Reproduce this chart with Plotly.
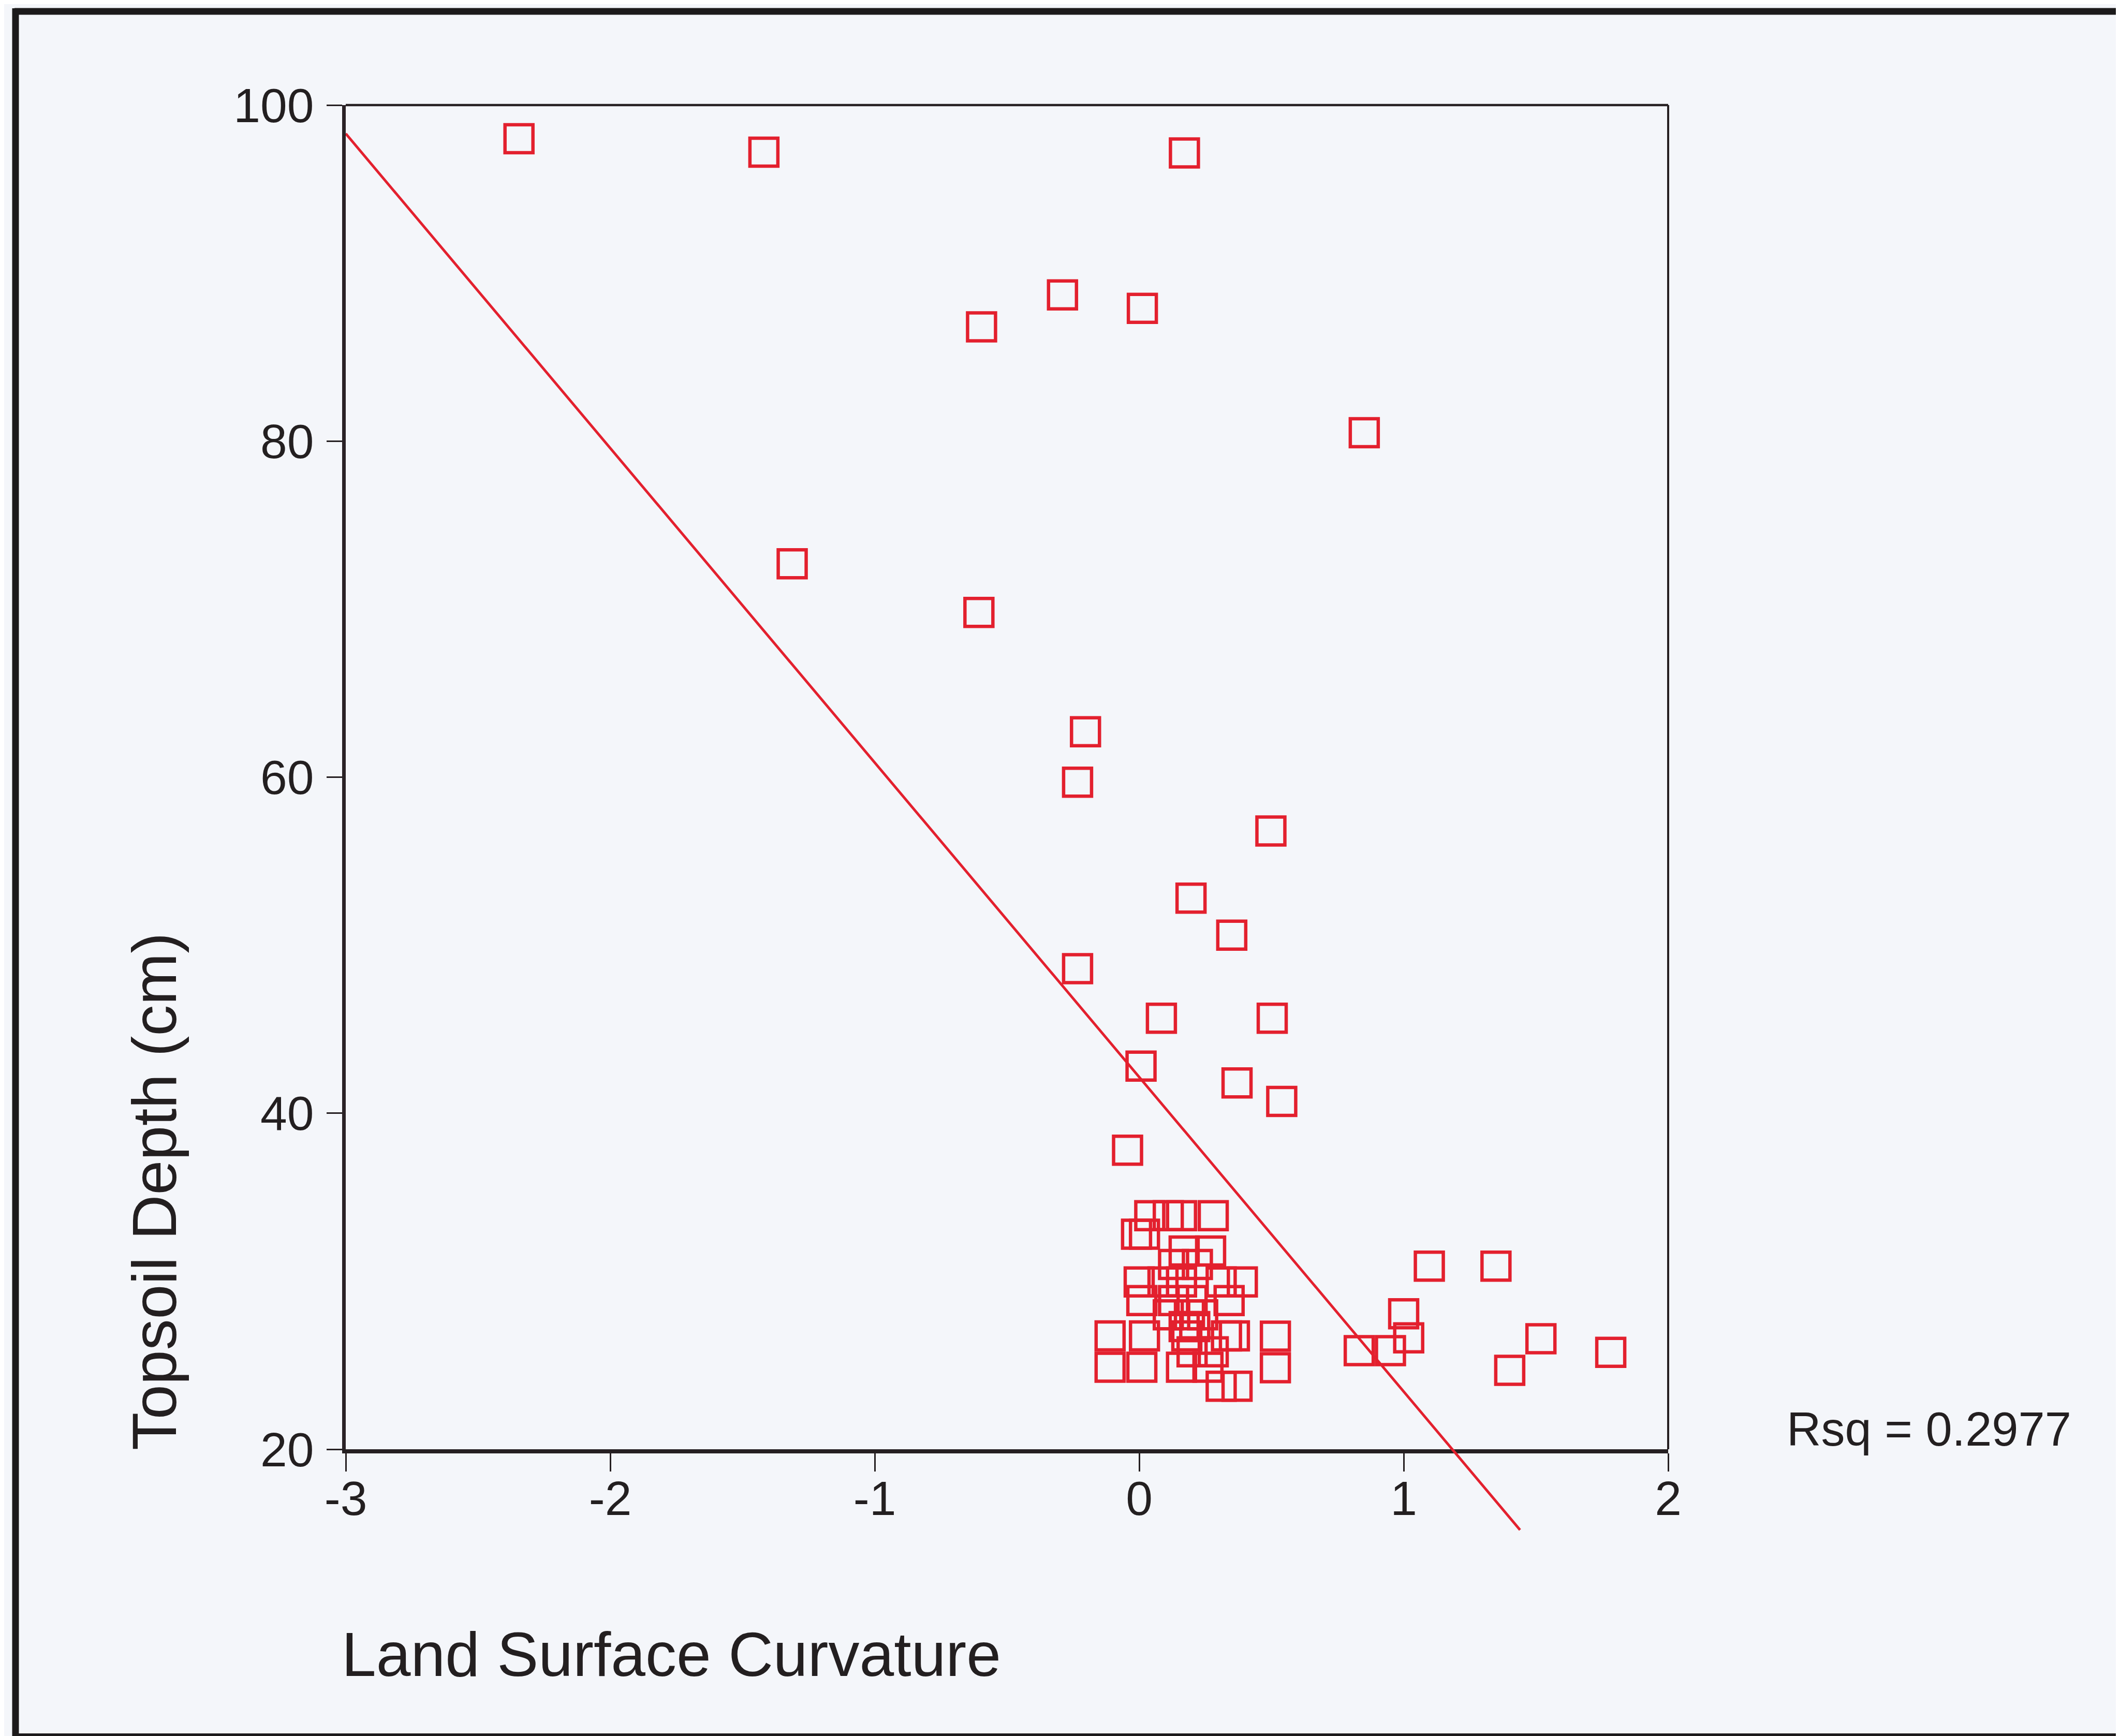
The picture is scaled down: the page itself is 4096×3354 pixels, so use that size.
import plotly.graph_objects as go

# ---------------- data ----------------
curvature = [-2.345, -1.419, 0.171, -0.290, 0.012, -0.596, 0.851, -1.312, -0.606,
             -0.203, -0.233, 0.498, 0.196, 0.350, -0.233, 0.084, 0.503, 0.007,
             0.370, 0.539, -0.044,
             1.097, 1.349, 1.000, 1.019, 0.832, 0.950, 1.519, 1.401, 1.783,
             0.515, 0.515,
             0.04, 0.11, 0.16, 0.28,
             -0.01, 0.02,
             0.17, 0.27,
             0.13, 0.22,
             0.00, 0.09, 0.16, 0.31, 0.39,
             0.01, 0.13, 0.20, 0.34,
             0.11, 0.19, 0.24,
             0.17, 0.21,
             -0.11, 0.02, 0.18, 0.33, 0.36,
             0.20, 0.28,
             -0.11, 0.01, 0.16, 0.26,
             0.31, 0.37]
depth = [98.0, 97.2, 97.15, 88.7, 87.9, 86.8, 80.5, 72.7, 69.8,
         62.7, 59.7, 56.8, 52.8, 50.6, 48.6, 45.65, 45.65, 42.8,
         41.8, 40.7, 37.8,
         30.9, 30.9, 28.06, 26.63, 25.87, 25.87, 26.58, 24.7, 25.77,
         26.73, 24.85,
         33.9, 33.9, 33.9, 33.9,
         32.8, 32.8,
         31.8, 31.8,
         31.0, 31.0,
         29.96, 29.96, 29.96, 29.96, 29.96,
         28.85, 28.85, 28.85, 28.85,
         28.0, 28.0, 28.0,
         27.3, 27.3,
         26.75, 26.75, 26.75, 26.75, 26.75,
         25.8, 25.8,
         24.88, 24.88, 24.88, 24.88,
         23.75, 23.75]

fit_x = [-3.0, 1.44]
fit_y = [98.3, 15.2]

x_ticks = [-3, -2, -1, 0, 1, 2]
y_ticks = [20, 40, 60, 80, 100]
rsq_label = "Rsq = 0.2977"

# ---------------- layout geometry ----------------
W, H = 4096, 3354
L, R, T, B = 660, 881, 195, 362
PW, PH = W - L - R, H - T - B
RED = "#e3202e"
INK = "#231f20"
BG = "#f4f6fa"
FONT = "Liberation Sans, Arial, sans-serif"

def px(xp):
    return (xp - L) / PW

def py(yp):
    return (H - B - yp) / PH

y_bottom_dom = py(2792)   # where y=20 sits
ext = (y_bottom_dom * PH) / ((2792 - 195) / 80.0)  # data units below 20 in ext subplot

fig = go.Figure()
fig.add_trace(go.Scatter(
    x=curvature, y=depth, mode="markers", xaxis="x", yaxis="y",
    marker=dict(symbol="square-open", size=54, color=RED,
                line=dict(width=6.5, color=RED)),
    showlegend=False, hoverinfo="x+y"))
fig.add_trace(go.Scatter(
    x=fit_x, y=fit_y, mode="lines", xaxis="x2", yaxis="y2",
    line=dict(color=RED, width=5), showlegend=False))

fig.update_layout(
    width=W, height=H, autosize=False,
    margin=dict(l=L, r=R, t=T, b=B, pad=0),
    paper_bgcolor=BG, plot_bgcolor="rgba(0,0,0,0)",
    font=dict(family=FONT, color=INK, size=93),
    xaxis=dict(domain=[0, 1], range=[-3, 2], anchor="y",
               tickvals=x_ticks, ticktext=[str(v) for v in x_ticks],
               showgrid=False, zeroline=False,
               showline=True, linecolor="#262022", linewidth=8,
               ticks="outside", ticklen=35, tickwidth=2.5, tickcolor="#262022",
               tickfont=dict(size=93, color=INK, family=FONT),
               ticklabelstandoff=-28),
    yaxis=dict(domain=[y_bottom_dom, 1], range=[20, 100], anchor="x",
               tickvals=y_ticks, ticktext=[str(v) for v in y_ticks],
               showgrid=False, zeroline=False,
               showline=True, linecolor="#2a2226", linewidth=7,
               ticks="outside", ticklen=30, tickwidth=2.5, tickcolor="#262022",
               tickfont=dict(size=93, color=INK, family=FONT),
               ticklabelstandoff=6),
    xaxis2=dict(domain=[0, 1], range=[-3, 2], anchor="y2", visible=False),
    yaxis2=dict(domain=[0, 1], range=[20 - ext, 100], anchor="x2", visible=False),
)

# plot frame (top and right)
fig.add_shape(type="line", xref="x domain", yref="y domain", x0=0, x1=1, y0=1, y1=1,
              line=dict(color="#262022", width=4.5))
fig.add_shape(type="line", xref="x domain", yref="y domain", x0=1, x1=1, y0=0, y1=1,
              line=dict(color="#262022", width=4))

# outer page border
fig.add_shape(type="line", xref="paper", yref="paper", x0=px(20), x1=px(4200), y0=py(14), y1=py(14),
              line=dict(color="#1c1a1b", width=13))
fig.add_shape(type="line", xref="paper", yref="paper", x0=px(22), x1=px(22), y0=py(8), y1=py(3346),
              line=dict(color="#1c1a1b", width=13))
fig.add_shape(type="line", xref="paper", yref="paper", x0=px(16), x1=px(4200), y0=py(3346), y1=py(3346),
              line=dict(color="#1c1a1b", width=10))

# axis titles and Rsq
fig.add_annotation(text="Topsoil Depth (cm)", xref="paper", yref="paper",
                   x=px(290), y=py(2294), xanchor="center", yanchor="middle",
                   textangle=-90, showarrow=False,
                   font=dict(size=120, color=INK, family=FONT))
fig.add_annotation(text="Land Surface Curvature", xref="paper", yref="paper",
                   x=px(650), y=py(3188), xanchor="left", yanchor="middle",
                   showarrow=False, font=dict(size=120, color=INK, family=FONT))
fig.add_annotation(text=rsq_label, xref="paper", yref="paper",
                   x=px(3442), y=py(2753), xanchor="left", yanchor="middle",
                   showarrow=False, font=dict(size=92, color=INK, family=FONT))

fig.write_html("out.html")
